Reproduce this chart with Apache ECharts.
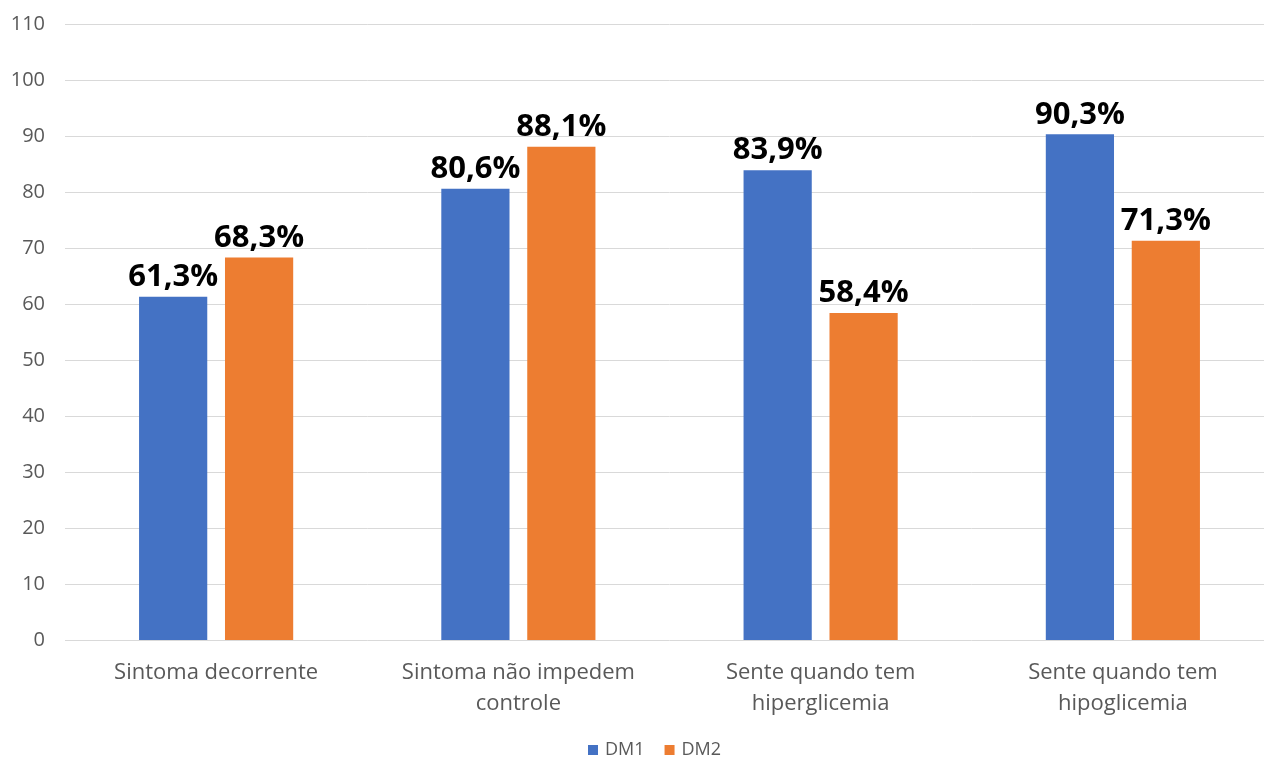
<!DOCTYPE html>
<html><head><meta charset="utf-8">
<script src="https://cdn.jsdelivr.net/npm/echarts@6/dist/echarts.min.js"></script>
<style>html,body{margin:0;padding:0;background:#fff;overflow:hidden}#c{width:1274px;height:758px}</style>
</head><body><div id="c"></div>
<script>
const categories = ['Sintoma decorrente', 'Sintoma não impedem\ncontrole', 'Sente quando tem\nhiperglicemia', 'Sente quando tem\nhipoglicemia'];
const dm1 = [61.3, 80.6, 83.9, 90.3];
const dm2 = [68.3, 88.1, 58.4, 71.3];
const yTicks = {min: 0, max: 110, interval: 10};
const fmt = p => p.value.toFixed(1).replace('.', ',') + '%';
const labelStyle = {show: true, position: 'top', distance: 4, formatter: fmt, color: '#000', fontSize: 31, fontWeight: 'bold', fontFamily: 'Open Sans'};
const chart = echarts.init(document.getElementById('c'));
chart.setOption({
  animation: false,
  grid: {left: 65, right: 0, top: 24, bottom: 118, containLabel: false},
  legend: {top: 736, left: 583, itemWidth: 10, itemHeight: 10, itemGap: 20, icon: 'rect',
    textStyle: {color: '#595959', fontSize: 18, fontFamily: 'Open Sans', padding: [0, 0, 0, 2]}, data: ['DM1', 'DM2']},
  xAxis: {type: 'category', data: categories, axisLine: {show: false}, axisTick: {show: false},
    axisLabel: {interval: 0, color: '#595959', fontSize: 22, lineHeight: 31, margin: 17, fontFamily: 'Open Sans'}},
  yAxis: {type: 'value', min: yTicks.min, max: yTicks.max, interval: yTicks.interval,
    axisLine: {show: false}, axisTick: {show: false},
    axisLabel: {color: '#595959', fontSize: 20, margin: 20, fontFamily: 'Open Sans'},
    splitLine: {lineStyle: {color: '#d9d9d9', width: 1}}},
  series: [
    {name: 'DM1', type: 'bar', data: dm1, itemStyle: {color: '#4472c4'}, barGap: '26%', barCategoryGap: '49%', label: labelStyle},
    {name: 'DM2', type: 'bar', data: dm2, itemStyle: {color: '#ed7d31'}, label: labelStyle}
  ]
});
</script></body></html>
